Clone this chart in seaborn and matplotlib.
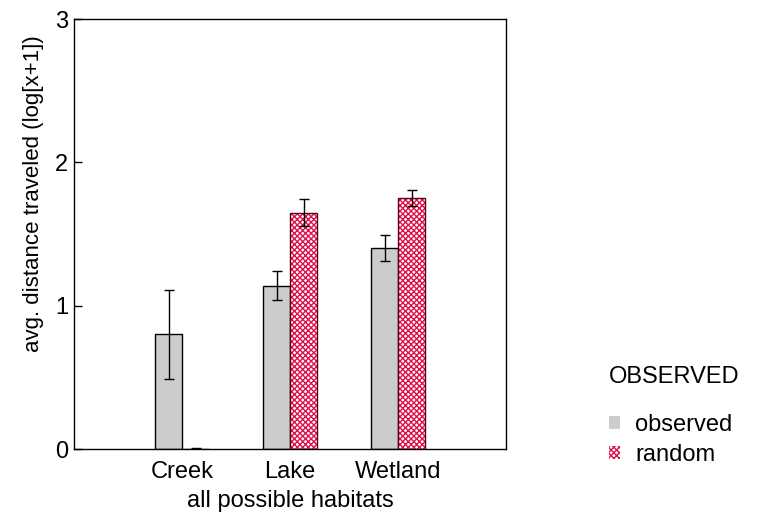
import matplotlib
matplotlib.use("Agg")
import matplotlib.pyplot as plt
import seaborn as sns
import pandas as pd
import numpy as np
from matplotlib.patches import Patch, Rectangle

habitats = ["Creek", "Lake", "Wetland"]
observed_mean = [0.80, 1.14, 1.40]
observed_err = [0.31, 0.10, 0.09]
random_mean = [0.0, 1.65, 1.75]
random_err = [0.005, 0.095, 0.055]
groups = ["observed", "random"]

sns.set_theme(style="white")
plt.rcParams['font.family'] = ['Liberation Sans', 'DejaVu Sans']
plt.rcParams['hatch.linewidth'] = 1.0
for k in ["text.color", "axes.labelcolor", "xtick.color", "ytick.color"]:
    plt.rcParams[k] = "black"

df = pd.DataFrame({
    "habitat": habitats * 2,
    "group": ["observed"] * 3 + ["random"] * 3,
    "value": observed_mean + random_mean,
})
errs = {"observed": observed_err, "random": random_err}

fig = plt.figure(figsize=(7.58, 5.17), dpi=100)
ax = fig.add_axes([74/758, 68/517, 432/758, 430/517])

grey = "#cccccc"
red = "#e0104a"
maroon = "#5a0018"
FS = 17
HATCH = "xxxxxx"
sns.barplot(data=df, x="habitat", y="value", hue="group", order=habitats,
            hue_order=groups, palette={"observed": grey, "random": "white"},
            width=0.5, errorbar=None, ax=ax, legend=False,
            edgecolor="black", linewidth=1.0, saturation=1)

for cont, g in zip(ax.containers, groups):
    for bar, e in zip(cont, errs[g]):
        if g == "random":
            bar.set_hatch(HATCH)
            bar.set_edgecolor(red)
            bar.set_linewidth(0)
            ax.add_patch(Rectangle(bar.get_xy(), bar.get_width(), bar.get_height(),
                                   fill=False, edgecolor=maroon, linewidth=1.0, zorder=bar.get_zorder() + 0.1))
        cx = bar.get_x() + bar.get_width() / 2
        ax.errorbar(cx, bar.get_height(), yerr=e, color="black", capsize=3.5,
                    elinewidth=1, capthick=1, zorder=5)

ax.set_xlim(-1, 3)
ax.set_ylim(0, 3)
ax.set_yticks([0, 1, 2, 3])
ax.tick_params(axis="y", direction="in", length=6, width=1, color="black",
               labelsize=FS, pad=4, left=True)
ax.tick_params(axis="x", length=0, labelsize=FS, pad=9)
for s in ax.spines.values():
    s.set_color("black")
    s.set_linewidth(1.0)
ax.set_xlabel("all possible habitats", fontsize=FS, labelpad=5)
ax.set_ylabel("avg. distance traveled (log[x+1])", fontsize=16)
ax.yaxis.set_label_coords(-0.07, 0.593)

handles = [Patch(facecolor=grey, edgecolor="none", label="observed"),
           Patch(facecolor="white", edgecolor=red, hatch=HATCH, linewidth=0, label="random")]
leg = fig.legend(handles=handles, title="OBSERVED", loc="upper left",
                 bbox_to_anchor=(590/758, 1 - 347/517), frameon=False,
                 fontsize=FS, title_fontsize=FS, handlelength=0.47,
                 handleheight=0.47, handletextpad=0.65, labelspacing=0.33,
                 borderpad=0.3)
leg._legend_box.sep = 19
leg._legend_box.align = "left"

fig.savefig("out.png", dpi=100)
